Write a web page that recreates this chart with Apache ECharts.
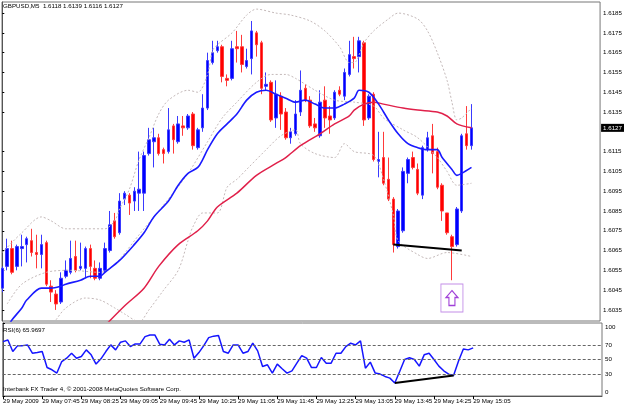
<!DOCTYPE html>
<html>
<head>
<meta charset="UTF-8">
<title>GBPUSD,M5</title>
<script src="https://cdn.jsdelivr.net/npm/echarts@6/dist/echarts.min.js"></script>
<style>
  html, body { margin: 0; padding: 0; background: #fff; }
  #chart { width: 625px; height: 406px; }
</style>
</head>
<body>
<div id="chart"></div>
<script>
// time axis: one bar per 5 minutes, a label every 8 bars
var labelBars = [0, 8, 16, 24, 32, 40, 48, 56, 64, 72, 80, 88, 96];
var labelTexts = ['29 May 2009', '29 May 07:45', '29 May 08:25', '29 May 09:05', '29 May 09:45',
  '29 May 10:25', '29 May 11:05', '29 May 11:45', '29 May 12:25', '29 May 13:05',
  '29 May 13:45', '29 May 14:25', '29 May 15:05'];

// price scale labels (1.6125 sits under the last-price tag)
var priceTicks = [1.6035, 1.6045, 1.6055, 1.6065, 1.6075, 1.6085, 1.6095, 1.6105,
  1.6115, 1.6135, 1.6145, 1.6155, 1.6165, 1.6175, 1.6185];
var rsiTicks = [0, 30, 50, 70, 100];
var rsiLevels = [30, 50, 70];

// candles
var opens = [1.6046, 1.6057, 1.6066, 1.6057, 1.6066, 1.6068, 1.6070, 1.6064, 1.6063, 1.6069,
  1.6047, 1.6043, 1.6039, 1.6052, 1.6054, 1.6062, 1.6056, 1.6056, 1.6066, 1.6056,
  1.6051, 1.6055, 1.6065, 1.6080, 1.6074, 1.6091, 1.6093, 1.6090, 1.6094, 1.6094,
  1.6114, 1.6120, 1.6122, 1.6116, 1.6115, 1.6128, 1.6120, 1.6128, 1.6127, 1.6134,
  1.6117, 1.6127, 1.6137, 1.6160, 1.6166, 1.6168, 1.6152, 1.6152, 1.6168, 1.6168,
  1.6158, 1.6162, 1.6175, 1.6170, 1.6148, 1.6150, 1.6132, 1.6143, 1.6135, 1.6122,
  1.6124, 1.6135, 1.6147, 1.6141, 1.6129, 1.6123, 1.6141, 1.6133, 1.6132, 1.6146,
  1.6143, 1.6154, 1.6163, 1.6163, 1.6170, 1.6132, 1.6144, 1.6110, 1.6112, 1.6101,
  1.6091, 1.6067, 1.6075, 1.6104, 1.6112, 1.6106, 1.6093, 1.6116, 1.6123, 1.6115,
  1.6098, 1.6084, 1.6072, 1.6068, 1.6085, 1.6124, 1.6118];
var highs = [1.6057, 1.6071, 1.6070, 1.6068, 1.6073, 1.6072, 1.6076, 1.6073, 1.6073, 1.6070,
  1.6050, 1.6045, 1.6054, 1.6060, 1.6070, 1.6070, 1.6069, 1.6067, 1.6068, 1.6060,
  1.6059, 1.6069, 1.6085, 1.6084, 1.6094, 1.6095, 1.6094, 1.6097, 1.6115, 1.6115,
  1.6127, 1.6127, 1.6124, 1.6117, 1.6137, 1.6129, 1.6133, 1.6133, 1.6134, 1.6135,
  1.6127, 1.6144, 1.6165, 1.6171, 1.6171, 1.6169, 1.6154, 1.6171, 1.6176, 1.6174,
  1.6167, 1.6181, 1.6176, 1.6171, 1.6155, 1.6151, 1.6151, 1.6145, 1.6137, 1.6127,
  1.6141, 1.6156, 1.6149, 1.6143, 1.6132, 1.6146, 1.6148, 1.6138, 1.6146, 1.6148,
  1.6157, 1.6171, 1.6173, 1.6173, 1.6171, 1.6144, 1.6145, 1.6125, 1.6125, 1.6112,
  1.6092, 1.6086, 1.6107, 1.6112, 1.6115, 1.6109, 1.6118, 1.6125, 1.6129, 1.6117,
  1.6099, 1.6084, 1.6073, 1.6087, 1.6124, 1.6138, 1.6139];
var lows = [1.6044, 1.6055, 1.6053, 1.6055, 1.6057, 1.6059, 1.6062, 1.6056, 1.6056, 1.6047,
  1.6039, 1.6035, 1.6038, 1.6051, 1.6053, 1.6054, 1.6055, 1.6051, 1.6051, 1.6050,
  1.6050, 1.6054, 1.6064, 1.6071, 1.6073, 1.6088, 1.6083, 1.6085, 1.6085, 1.6085,
  1.6113, 1.6107, 1.6113, 1.6109, 1.6114, 1.6114, 1.6119, 1.6123, 1.6126, 1.6116,
  1.6116, 1.6125, 1.6136, 1.6159, 1.6165, 1.6150, 1.6148, 1.6151, 1.6160, 1.6155,
  1.6157, 1.6154, 1.6163, 1.6144, 1.6146, 1.6130, 1.6127, 1.6126, 1.6121, 1.6119,
  1.6123, 1.6133, 1.6140, 1.6127, 1.6125, 1.6122, 1.6127, 1.6124, 1.6131, 1.6143,
  1.6141, 1.6153, 1.6157, 1.6155, 1.6128, 1.6131, 1.6110, 1.6102, 1.6098, 1.6090,
  1.6064, 1.6066, 1.6074, 1.6099, 1.6106, 1.6093, 1.6091, 1.6115, 1.6104, 1.6096,
  1.6080, 1.6073, 1.6050, 1.6067, 1.6084, 1.6116, 1.6116];
var closes = [1.6056, 1.6066, 1.6054, 1.6067, 1.6067, 1.6071, 1.6064, 1.6063, 1.6068, 1.6048,
  1.6044, 1.6038, 1.6051, 1.6055, 1.6061, 1.6055, 1.6057, 1.6066, 1.6057, 1.6051,
  1.6056, 1.6066, 1.6078, 1.6072, 1.6090, 1.6094, 1.6089, 1.6095, 1.6096, 1.6113,
  1.6121, 1.6122, 1.6114, 1.6114, 1.6126, 1.6121, 1.6129, 1.6127, 1.6133, 1.6118,
  1.6126, 1.6137, 1.6161, 1.6165, 1.6168, 1.6153, 1.6151, 1.6167, 1.6167, 1.6159,
  1.6161, 1.6176, 1.6169, 1.6147, 1.6149, 1.6131, 1.6144, 1.6134, 1.6122, 1.6125,
  1.6134, 1.6146, 1.6141, 1.6128, 1.6127, 1.6140, 1.6132, 1.6131, 1.6145, 1.6144,
  1.6155, 1.6164, 1.6162, 1.6171, 1.6131, 1.6143, 1.6111, 1.6111, 1.6099, 1.6091,
  1.6068, 1.6085, 1.6105, 1.6111, 1.6107, 1.6094, 1.6117, 1.6122, 1.6114, 1.6097,
  1.6085, 1.6074, 1.6067, 1.6086, 1.6123, 1.6118, 1.6127];

// indicator lines, [bar, price]
var maFast = [[1, 1.6026], [2, 1.6030], [4, 1.6036], [5, 1.6040], [8, 1.6046], [10, 1.6046],
  [12, 1.6047], [13, 1.6048], [16, 1.6050], [18, 1.6052], [20, 1.6052], [21, 1.6054],
  [24, 1.6060], [27, 1.6068], [29, 1.6074], [31, 1.6082], [34, 1.6090], [36, 1.6098],
  [38, 1.6104], [40, 1.6107], [41, 1.6111], [42, 1.6116], [44, 1.6124], [46, 1.6129],
  [48, 1.6134], [50, 1.6141], [52, 1.6145], [54, 1.6146], [56, 1.6144], [58, 1.6142],
  [60, 1.6140], [62, 1.6141], [64, 1.6139], [66, 1.6137], [68, 1.6137], [70, 1.6139],
  [72, 1.6142], [73, 1.6146], [75, 1.6145], [77, 1.6139], [79, 1.6131], [81, 1.6124],
  [83, 1.6119], [85, 1.6117], [87, 1.6116], [89, 1.6116], [90, 1.6112], [92, 1.6106],
  [93, 1.6103], [94, 1.6104], [96, 1.6107]];
var maSlow = [[21, 1.6027], [25, 1.6037], [29, 1.6046], [32, 1.6057], [36, 1.6068], [40, 1.6075],
  [42, 1.6080], [44, 1.6087], [48, 1.6094], [52, 1.6103], [56, 1.6109], [58, 1.6112],
  [61, 1.6118], [65, 1.6124], [68, 1.6129], [71, 1.6133], [72, 1.6136], [74, 1.6139],
  [76, 1.6140], [78, 1.6139], [82, 1.6137], [85, 1.6136], [89, 1.6135], [91, 1.6133],
  [93, 1.6129], [96, 1.6127]];
var bbUpper = [[0, 1.6064], [4, 1.6074], [8, 1.6082], [10, 1.6080], [13, 1.6076], [17, 1.6076],
  [21, 1.6076], [23, 1.6080], [24, 1.6086], [26, 1.6096], [28, 1.6111], [30, 1.6122],
  [32, 1.6134], [34, 1.6141], [38, 1.6146], [40, 1.6145], [42, 1.6154], [43, 1.6166],
  [44, 1.6169], [47, 1.6175], [50, 1.6184], [52, 1.6187], [56, 1.6185], [59, 1.6184],
  [63, 1.6181], [66, 1.6176], [69, 1.6168], [71, 1.6160], [72, 1.6160], [74, 1.6170],
  [76, 1.6176], [79, 1.6182], [81, 1.6185], [85, 1.6182], [87, 1.6176], [89, 1.6165],
  [91, 1.6151], [92, 1.6140], [93, 1.6131], [94, 1.6132], [96, 1.6137]];
var bbMiddle = [[1, 1.6038], [4, 1.6048], [9, 1.6054], [14, 1.6055], [20, 1.6054], [23, 1.6058],
  [28, 1.6073], [33, 1.6088], [38, 1.6104], [42, 1.6120], [45, 1.6132], [48, 1.6140],
  [52, 1.6150], [55, 1.6154], [58, 1.6154], [60, 1.6152], [64, 1.6146], [68, 1.6141],
  [72, 1.6140], [76, 1.6138], [78, 1.6132], [82, 1.6126], [85, 1.6122], [89, 1.6112],
  [91, 1.6105], [93, 1.6098], [96, 1.6099]];
var bbLower = [[11, 1.6030], [13, 1.6036], [17, 1.6041], [20, 1.6040], [23, 1.6036], [25, 1.6033],
  [28, 1.6029], [30, 1.6035], [33, 1.6045], [36, 1.6055], [38, 1.6070], [39, 1.6077],
  [41, 1.6084], [44, 1.6084], [46, 1.6097], [48, 1.6101], [50, 1.6106], [54, 1.6116],
  [57, 1.6123], [60, 1.6126], [61, 1.6119], [64, 1.6114], [68, 1.6112], [70, 1.6119],
  [72, 1.6115], [76, 1.6113], [78, 1.6101], [80, 1.6083], [81, 1.6070], [85, 1.6063],
  [87, 1.6061], [91, 1.6064], [96, 1.6062]];

// RSI(6), one value per bar
var rsi = [74.5, 76.8, 60.9, 69, 69, 70, 58.6, 59.5, 60.9, 39,
  35.9, 31.4, 47.2, 51.8, 58.6, 51.8, 54.1, 63.2, 56.4, 43.7,
  50.9, 60.9, 70, 63.2, 73.7, 75.5, 67.7, 71.4, 71.4, 81.3,
  83.6, 83.6, 71, 70, 77.7, 70, 75.5, 73.7, 76.8, 51.8,
  59.5, 69, 80, 82, 82.8, 60.9, 58.6, 70, 70, 58.6,
  60.9, 72.3, 61.8, 40.4, 42.7, 31.4, 43.7, 37.3, 31.4, 34.5,
  45, 55.4, 51.8, 39, 39, 52.7, 45, 45, 58.6, 58.6,
  67.7, 72.3, 70, 75.5, 38.1, 46.4, 31.4, 30, 26.8, 24.5,
  17.7, 33.6, 50, 52.3, 50, 40.9, 56.4, 58.6, 50, 40.9,
  34.5, 30, 28.1, 47.7, 64.5, 63.2, 65.9697];

// divergence lines and the arrow marker
var priceDivergence = [[80, 1.6068], [94, 1.6065]];
var rsiDivergence = [[80, 17.7], [92, 28.1]];
var arrowAt = [92, 1.6041];

var chart = echarts.init(document.getElementById('chart'));
var font = 'Liberation Sans, Arial, sans-serif';
var fs = 6.2;
var xMin = -0.06, xMax = 122.31;
var last = closes.length - 1;

var candleData = opens.map(function (o, i) {
  return [i, o, closes[i], lows[i], highs[i]];
});
var rsiData = rsi.map(function (v, i) { return [i, v]; });

function band(data) {
  return {
    type: 'line', data: data, xAxisIndex: 0, yAxisIndex: 0,
    showSymbol: false, smooth: 0.3, silent: true,
    lineStyle: { color: '#c4b9b9', width: 1, type: [2, 2] }
  };
}

var titleText = 'GBPUSD,M5  ' + [opens[last], highs[last], lows[last], closes[last]]
  .map(function (v) { return v.toFixed(4); }).join(' ');

var option = {
  animation: false,
  backgroundColor: '#fff',
  textStyle: { fontFamily: font },
  title: [
    { text: titleText, left: 3, top: 3, padding: 0,
      textStyle: { fontSize: fs, fontWeight: 'normal', color: '#000', fontFamily: font } },
    { text: 'RSI(6) ' + rsi[last].toFixed(4), left: 3, top: 327, padding: 0,
      textStyle: { fontSize: fs, fontWeight: 'normal', color: '#000', fontFamily: font } },
    { text: 'Interbank FX Trader 4, © 2001-2008 MetaQuotes Software Corp.', left: 3, top: 386, padding: 0,
      textStyle: { fontSize: fs, fontWeight: 'normal', color: '#000', fontFamily: font } }
  ],
  grid: [
    { left: 2, right: 23, top: 2, height: 319, show: true, borderColor: '#777', borderWidth: 1 },
    { left: 2, right: 23, top: 323, height: 73, show: true, borderColor: '#777', borderWidth: 1 }
  ],
  xAxis: [
    { type: 'value', gridIndex: 0, min: xMin, max: xMax, show: false },
    {
      type: 'value', gridIndex: 1, min: xMin, max: xMax,
      axisLine: { show: true, lineStyle: { color: '#555' } },
      axisTick: { show: true, customValues: labelBars, length: 3, lineStyle: { color: '#000' } },
      axisLabel: {
        customValues: labelBars, align: 'left', margin: 2, fontSize: fs, color: '#000', fontFamily: font,
        formatter: function (v) { return labelTexts[labelBars.indexOf(v)]; }
      },
      splitLine: { show: false }
    }
  ],
  yAxis: [
    {
      type: 'value', gridIndex: 0, position: 'right', min: 1.60294, max: 1.61906,
      axisLine: { show: true, lineStyle: { color: '#555' } },
      axisTick: { show: true, customValues: priceTicks, length: 2, lineStyle: { color: '#000' } },
      axisLabel: {
        customValues: priceTicks, margin: 3, fontSize: fs, color: '#000', fontFamily: font,
        formatter: function (v) { return v.toFixed(4); }
      },
      splitLine: { show: false }
    },
    {
      type: 'value', gridIndex: 1, position: 'right', min: 0, max: 100,
      axisLine: { show: true, lineStyle: { color: '#555' } },
      axisTick: { show: true, customValues: rsiTicks, length: 2, lineStyle: { color: '#000' } },
      axisLabel: {
        customValues: rsiTicks, margin: 3, fontSize: fs, color: '#000', fontFamily: font,
        formatter: function (v) {
          if (v === 100) return '{t|100}';
          if (v === 0) return '{b|0}';
          return String(v);
        },
        rich: {
          t: { fontSize: fs, color: '#000', fontFamily: font, padding: [8, 0, 0, 0] },
          b: { fontSize: fs, color: '#000', fontFamily: font, padding: [0, 0, 8, 0] }
        }
      },
      splitLine: { show: false }
    }
  ],
  series: [
    band(bbUpper),
    band(bbMiddle),
    band(bbLower),
    {
      type: 'candlestick', name: 'GBPUSD', xAxisIndex: 0, yAxisIndex: 0,
      data: candleData, barWidth: 3,
      itemStyle: {
        color: '#0000ff', color0: '#ff0000',
        borderColor: '#3a3aff', borderColor0: '#ff3a3a', borderWidth: 1
      },
      markPoint: {
        silent: true, label: { show: false },
        data: [
          { coord: arrowAt, symbol: 'rect', symbolSize: [22, 28],
            itemStyle: { color: 'rgba(0,0,0,0)', borderColor: '#c38ee8', borderWidth: 1 } },
          { coord: arrowAt, symbol: 'path://M6 0 L12 7 L9 7 L9 15 L3 15 L3 7 L0 7 Z', symbolSize: [12, 15],
            itemStyle: { color: 'rgba(0,0,0,0)', borderColor: '#a040d8', borderWidth: 1.2 } }
        ]
      }
    },
    {
      type: 'line', name: 'MA slow', data: maSlow, xAxisIndex: 0, yAxisIndex: 0,
      showSymbol: false, smooth: 0.3, silent: true,
      lineStyle: { color: '#e0204a', width: 1.5 },
      // last-price tag on the price scale
      markLine: {
        silent: true, symbol: 'none', precision: 4,
        lineStyle: { color: 'rgba(0,0,0,0)', width: 1, type: 'solid' },
        label: {
          show: true, position: 'end', distance: 1,
          formatter: closes[last].toFixed(4),
          color: '#fff', backgroundColor: '#000', padding: [1, 2, 1, 2],
          fontSize: fs, fontFamily: font
        },
        data: [{ yAxis: closes[last] }]
      }
    },
    {
      type: 'line', name: 'MA fast', data: maFast, xAxisIndex: 0, yAxisIndex: 0,
      showSymbol: false, smooth: 0.3, silent: true,
      lineStyle: { color: '#1a1aff', width: 1.6 }
    },
    {
      type: 'line', name: 'divergence', data: priceDivergence, xAxisIndex: 0, yAxisIndex: 0,
      showSymbol: false, silent: true,
      lineStyle: { color: '#000', width: 2 }
    },
    {
      type: 'line', name: 'RSI(6)', data: rsiData, xAxisIndex: 1, yAxisIndex: 1,
      showSymbol: false, silent: true,
      lineStyle: { color: '#1515ff', width: 1.5 },
      markLine: {
        silent: true, symbol: 'none', label: { show: false },
        lineStyle: { color: '#666', width: 1, type: [3, 2] },
        data: rsiLevels.map(function (v) { return { yAxis: v }; })
      }
    },
    {
      type: 'line', name: 'RSI divergence', data: rsiDivergence, xAxisIndex: 1, yAxisIndex: 1,
      showSymbol: false, silent: true,
      lineStyle: { color: '#000', width: 2 }
    }
  ]
};

chart.setOption(option);
</script>
</body>
</html>
